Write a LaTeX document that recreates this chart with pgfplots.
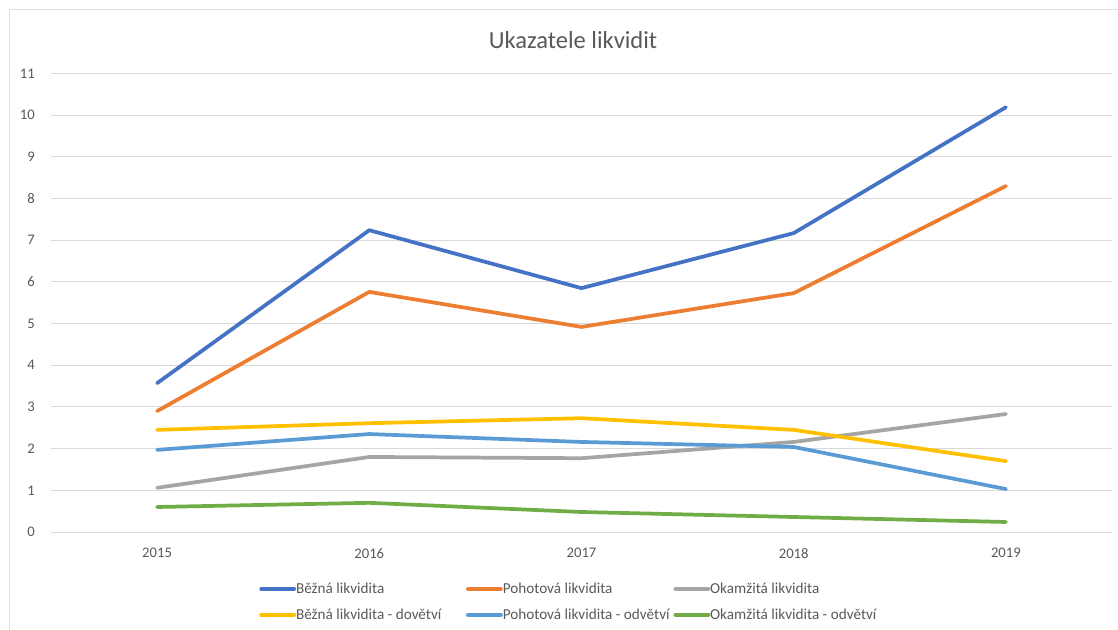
\documentclass[border=0pt]{standalone}
\usepackage{pgfplots}
\pgfplotsset{compat=1.18}
\usepackage{fontspec}
\setmainfont{Carlito}
\definecolor{cA}{HTML}{4472C4}
\definecolor{cB}{HTML}{ED7D31}
\definecolor{cC}{HTML}{A5A5A5}
\definecolor{cD}{HTML}{FFC000}
\definecolor{cE}{HTML}{5B9BD5}
\definecolor{cF}{HTML}{70AD47}
\definecolor{gridc}{HTML}{D9D9D9}
\definecolor{txt}{HTML}{595959}
\begin{document}
\begin{tikzpicture}
\begin{scope}[x=0.75pt,y=0.75pt]
\path[use as bounding box] (0,0) rectangle (1118,629);
\draw[black!12, line width=0.75pt] (9.5,-5) -- (9.5,619.5) -- (1125,619.5);
\node[font=\fontsize{18.4}{22}\selectfont, text=txt] at (573,589) {Ukazatele likvidit};
\end{scope}
\begin{axis}[
  at={(38.25pt,72.75pt)}, anchor=south west,
  width=795.75pt, height=343.9pt, scale only axis,
  xmin=-0.5, xmax=4.5, ymin=0, ymax=11,
  xtick={0,1,2,3,4}, xticklabels={2015,2016,2017,2018,2019},
  ytick={0,1,...,11},
  ymajorgrids, grid style={color=gridc, line width=0.75pt},
  axis line style={draw=none}, major tick length=0pt,
  /pgf/number format/assume math mode=true,
  ticklabel style={font=\fontsize{11}{13}\selectfont, text=txt, inner sep=0pt},
  yticklabel style={anchor=east, xshift=-12pt},
  xticklabel style={anchor=north, yshift=-12pt},
  clip=false,
  legend columns=3,
  legend cell align=left,
  legend style={at={(0.1923,-0.104)}, anchor=north west, draw=none, fill=none,
    font=\fontsize{11.4}{13}\selectfont, text=txt, nodes={inner sep=0pt},
    /tikz/every odd column/.append style={column sep=0pt},
    row sep=10pt},
  legend image code/.code={\draw[#1, line width=2.8pt] (0pt,0pt) -- (24.75pt,0pt);},
  every axis plot/.append style={line width=2.8pt, line join=round, line cap=round, mark=none},
]
\addplot[cA] coordinates {(0,3.57) (1,7.24) (2,5.85) (3,7.17) (4,10.19)};
\addlegendentry{\makebox[127.5pt][l]{Běžná likvidita}}
\addplot[cB] coordinates {(0,2.90) (1,5.76) (2,4.92) (3,5.73) (4,8.30)};
\addlegendentry{\makebox[128pt][l]{Pohotová likvidita}}
\addplot[cC] coordinates {(0,1.06) (1,1.80) (2,1.77) (3,2.16) (4,2.83)};
\addlegendentry{Okamžitá likvidita}
\addplot[cD] coordinates {(0,2.45) (1,2.61) (2,2.73) (3,2.45) (4,1.70)};
\addlegendentry{\makebox[127.5pt][l]{Běžná likvidita - dovětví}}
\addplot[cE] coordinates {(0,1.97) (1,2.35) (2,2.16) (3,2.04) (4,1.03)};
\addlegendentry{\makebox[128pt][l]{Pohotová likvidita - odvětví}}
\addplot[cF] coordinates {(0,0.60) (1,0.70) (2,0.48) (3,0.36) (4,0.24)};
\addlegendentry{Okamžitá likvidita - odvětví}
\end{axis}
\end{tikzpicture}
\end{document}
